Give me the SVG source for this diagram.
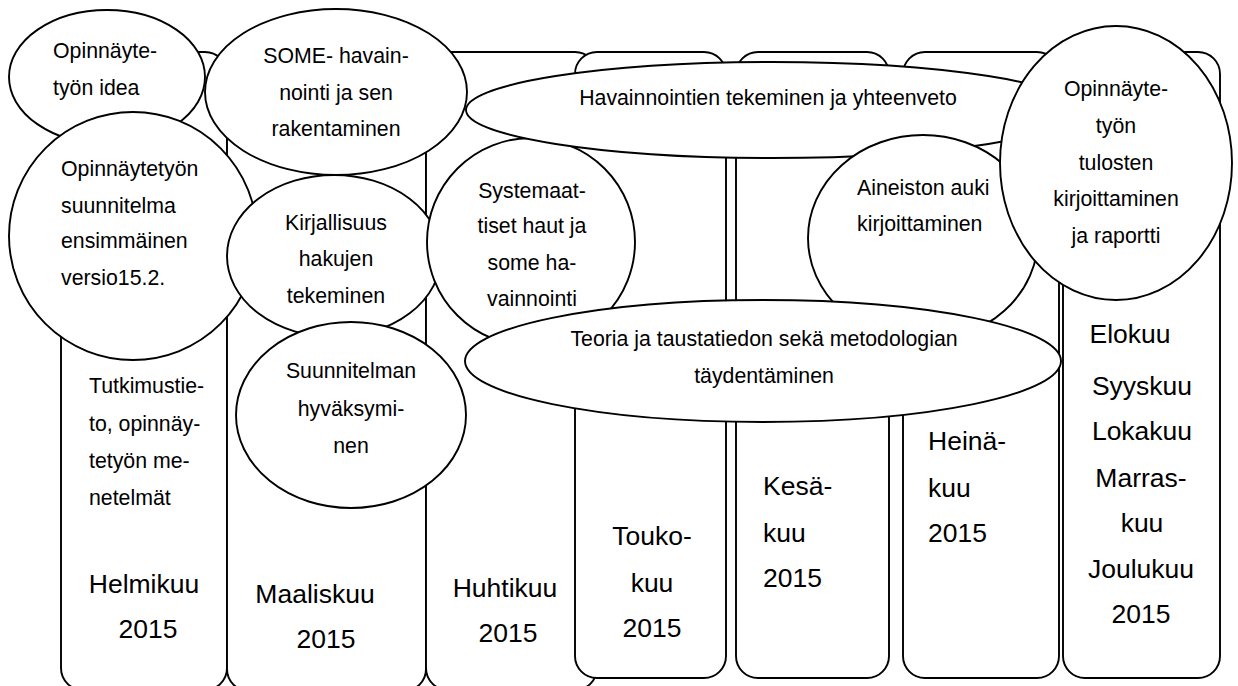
<svg xmlns="http://www.w3.org/2000/svg" width="1238" height="686" viewBox="0 0 1238 686">
<style>
.col{fill:#fff;stroke:#000;stroke-width:1.9}
.ell{fill:#fff;stroke:#000;stroke-width:1.9}
text{font-family:"Liberation Sans",Arial,sans-serif;fill:#000}
.t{font-size:21.3px}
.m{font-size:26.5px}
.c{text-anchor:middle}
</style>
<rect width="1238" height="686" fill="#fff"/>
<g id="columns">
<g id="col-helmikuu">
<rect class="col" x="61" y="52" width="166" height="638" rx="22"/>
<text class="t" x="89" y="392.5">Tutkimustie-</text>
<text class="t" x="89" y="430.5">to, opinnäy-</text>
<text class="t" x="89" y="467.5">tetyön me-</text>
<text class="t" x="89" y="504.5">netelmät</text>
<text class="m c" x="144" y="593">Helmikuu</text>
<text class="m c" x="148" y="638">2015</text>
</g>
<g id="col-maaliskuu">
<rect class="col" x="227" y="52" width="199" height="639" rx="22"/>
<text class="m c" x="315" y="603">Maaliskuu</text>
<text class="m c" x="326" y="648">2015</text>
</g>
<g id="col-huhtikuu">
<rect class="col" x="426" y="52" width="171" height="638" rx="22"/>
<text class="m c" x="505" y="597">Huhtikuu</text>
<text class="m c" x="508" y="642">2015</text>
</g>
<g id="col-toukokuu">
<rect class="col" x="575" y="52" width="151" height="626" rx="22"/>
<text class="m c" x="652" y="545">Touko-</text>
<text class="m c" x="652" y="592">kuu</text>
<text class="m c" x="652" y="637">2015</text>
</g>
<g id="col-kesakuu">
<rect class="col" x="736" y="52" width="153" height="626" rx="22"/>
<text class="m" x="763" y="495">Kesä-</text>
<text class="m" x="763" y="542">kuu</text>
<text class="m" x="763" y="587">2015</text>
</g>
<g id="col-heinakuu">
<rect class="col" x="903" y="52" width="156" height="626" rx="22"/>
<text class="m" x="928" y="450">Heinä-</text>
<text class="m" x="928" y="497">kuu</text>
<text class="m" x="928" y="542">2015</text>
</g>
<g id="col-elo-joulukuu">
<rect class="col" x="1063" y="52" width="157" height="626" rx="22"/>
<text class="m c" x="1130" y="343">Elokuu</text>
<text class="m c" x="1142" y="395">Syyskuu</text>
<text class="m c" x="1142" y="440">Lokakuu</text>
<text class="m c" x="1141" y="487">Marras-</text>
<text class="m c" x="1142" y="532">kuu</text>
<text class="m c" x="1141" y="578">Joulukuu</text>
<text class="m c" x="1141" y="623">2015</text>
</g>
</g>
<g id="connectors"></g>
<g id="idea">
<ellipse class="ell" cx="107" cy="77" rx="98" ry="67"/>
<text class="t" x="53" y="58">Opinnäyte-</text>
<text class="t" x="53" y="95">työn idea</text>
</g>
<g id="some">
<ellipse class="ell" cx="336" cy="92" rx="131" ry="83"/>
<text class="t c" x="336" y="62.5">SOME- havain-</text>
<text class="t c" x="336" y="99.5">nointi ja sen</text>
<text class="t c" x="336" y="135.5">rakentaminen</text>
</g>
<g id="suunnitelma">
<ellipse class="ell" cx="133" cy="236" rx="124" ry="124"/>
<text class="t" x="61" y="175.5">Opinnäytetyön</text>
<text class="t" x="61" y="212.5">suunnitelma</text>
<text class="t" x="61" y="248">ensimmäinen</text>
<text class="t" x="61" y="284.5">versio15.2.</text>
</g>
<g id="kirjallisuus">
<ellipse class="ell" cx="334" cy="256" rx="107" ry="81"/>
<text class="t c" x="336" y="229.5">Kirjallisuus</text>
<text class="t c" x="336" y="265.5">hakujen</text>
<text class="t c" x="336" y="302.5">tekeminen</text>
</g>
<g id="hyvaksyminen">
<ellipse class="ell" cx="351" cy="415" rx="115" ry="93"/>
<text class="t c" x="351" y="377.5">Suunnitelman</text>
<text class="t c" x="351" y="415.5">hyväksymi-</text>
<text class="t c" x="351" y="452.5">nen</text>
</g>
<g id="systemaattiset">
<ellipse class="ell" cx="531" cy="242" rx="104" ry="104"/>
<text class="t c" x="532" y="197.5">Systemaat-</text>
<text class="t c" x="532" y="232.5">tiset haut ja</text>
<text class="t c" x="532" y="269.5">some ha-</text>
<text class="t c" x="532" y="305.5">vainnointi</text>
</g>
<g id="havainnointien">
<ellipse class="ell" cx="772" cy="110" rx="306" ry="48"/>
<text class="t c" x="768" y="104.5">Havainnointien tekeminen ja yhteenveto</text>
</g>
<g id="aineisto">
<ellipse class="ell" cx="923" cy="238" rx="115" ry="103"/>
<text class="t" x="857" y="194.5">Aineiston auki</text>
<text class="t" x="857" y="230.5">kirjoittaminen</text>
</g>
<g id="teoria">
<ellipse class="ell" cx="763" cy="361" rx="298" ry="61"/>
<text class="t c" x="764" y="345.5">Teoria ja taustatiedon sekä metodologian</text>
<text class="t c" x="764" y="382.5">täydentäminen</text>
</g>
<g id="raportti">
<ellipse class="ell" cx="1116" cy="163" rx="116" ry="137"/>
<text class="t c" x="1116" y="95.5">Opinnäyte-</text>
<text class="t c" x="1116" y="132.5">työn</text>
<text class="t c" x="1116" y="169.5">tulosten</text>
<text class="t c" x="1116" y="205.5">kirjoittaminen</text>
<text class="t c" x="1116" y="242.5">ja raportti</text>
</g>
</svg>
